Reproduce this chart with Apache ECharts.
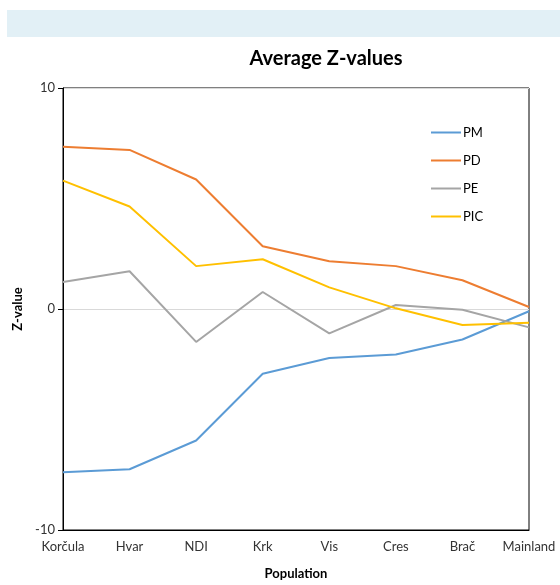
<!DOCTYPE html>
<html><head><meta charset="utf-8">
<script src="https://cdn.jsdelivr.net/npm/echarts@6/dist/echarts.min.js"></script>
<style>html,body{margin:0;padding:0;background:#fff}#band{position:absolute;left:7px;top:10px;width:553px;height:27px;background:#e2f0f6}#c{position:absolute;left:0;top:0;width:560px;height:585px}</style>
</head><body><div id="band"></div><div id="c"></div>
<script>
const categories = ['Korčula','Hvar','NDI','Krk','Vis','Cres','Brač','Mainland'];
const PM  = [-7.39, -7.25, -5.95, -2.93, -2.22, -2.06, -1.38, -0.10];
const PD  = [7.34, 7.20, 5.86, 2.84, 2.16, 1.94, 1.30, 0.09];
const PE  = [1.22, 1.71, -1.49, 0.77, -1.10, 0.18, -0.03, -0.83];
const PIC = [5.81, 4.64, 1.94, 2.25, 0.98, 0.03, -0.72, -0.62];
const yTicks = [-10, 0, 10];
const seriesNames = ['PM','PD','PE','PIC'];
const seriesData = [PM, PD, PE, PIC];
const colors = ['#5B9BD5','#ED7D31','#A5A5A5','#FFC000'];
const font = 'Lato, "Open Sans", sans-serif';
const chart = echarts.init(document.getElementById('c'));
chart.setOption({
  animation: false,
  backgroundColor: 'transparent',
  title: {text: 'Average Z-values', left: 321, top: 44, textAlign: 'center',
    textStyle: {fontFamily: font, fontSize: 20, fontWeight: 'bold', color: '#000'}},
  legend: {orient: 'vertical', left: 426, top: 121, itemGap: 15, itemWidth: 30, itemHeight: 13,
    icon: 'path://M0,6L30,6L30,8L0,8Z', textStyle: {fontFamily: font, fontSize: 13, color: '#000', padding: [0,0,0,-3]},
    data: seriesNames},
  grid: {left: 63, right: 31, top: 88, bottom: 52, show: true, borderColor: '#000', borderWidth: 1},
  xAxis: {type: 'category', data: categories, boundaryGap: false,
    name: 'Population', nameLocation: 'middle', nameGap: 37,
    nameTextStyle: {fontFamily: font, fontSize: 13, fontWeight: 'bold', color: '#000'},
    axisLine: {onZero: false, lineStyle: {color: '#000'}},
    axisTick: {show: false},
    axisLabel: {fontFamily: font, fontSize: 13, color: '#333', margin: 10, interval: 0},
    splitLine: {show: false}},
  yAxis: {type: 'value', min: -10, max: 10, interval: 10,
    name: 'Z-value', nameLocation: 'middle', nameGap: 38, nameRotate: 90,
    nameTextStyle: {fontFamily: font, fontSize: 13, fontWeight: 'bold', color: '#000'},
    axisLine: {show: true, lineStyle: {color: '#000'}},
    axisTick: {show: true, length: 5, lineStyle: {color: '#000'}},
    axisLabel: {fontFamily: font, fontSize: 13, color: '#333', margin: 8,
      formatter: v => yTicks.includes(v) ? String(v) : ''},
    splitLine: {show: true, lineStyle: {color: '#d9d9d9'}}},
  series: seriesNames.map((n, i) => ({
    name: n, type: 'line', data: seriesData[i], symbol: 'none',
    lineStyle: {width: 2, color: colors[i]}, itemStyle: {color: colors[i]}
  }))
});
</script></body></html>
